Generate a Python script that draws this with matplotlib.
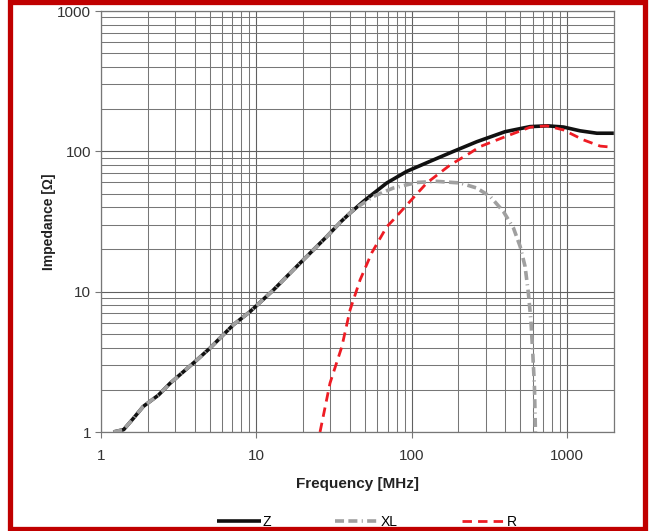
import matplotlib
matplotlib.use('Agg')
import matplotlib.pyplot as plt
from matplotlib.ticker import LogLocator, NullFormatter, FixedFormatter, FixedLocator
from matplotlib.patches import Rectangle

plt.rcParams['font.family'] = ['Liberation Sans', 'DejaVu Sans']

# data (frequency in MHz, impedance in ohm)
z_freq = [1.2, 1.4, 1.615, 1.87, 2.34, 2.78, 4.13, 5.03, 7.1, 9.1, 12.9, 19.1, 28.4, 35, 40.1,
          48.9, 69.1, 93, 131, 186, 262, 399, 578, 745, 948, 1214, 1556, 2000]
z_val = [1.0, 1.04, 1.25, 1.52, 1.83, 2.22, 3.25, 3.96, 5.8, 7.2, 10.3, 15.96, 24.7, 31.5, 36.3,
         44, 59.5, 72, 84.8, 100, 117, 138, 150, 152, 149, 140, 134.6, 134.6]

xl_freq = [1.2, 1.4, 1.615, 1.87, 2.34, 2.78, 4.13, 5.03, 7.1, 9.1, 12.9, 19.1, 28.4, 35, 42.1,
           56.7, 76.2, 108, 145, 205, 262, 320, 389, 452, 499, 537, 564, 585, 602, 617, 626]
xl_val = [1.0, 1.04, 1.25, 1.52, 1.83, 2.22, 3.25, 3.96, 5.8, 7.2, 10.3, 15.96, 24.7, 31.5, 38.3,
          47.7, 54.8, 60, 61.1, 59.5, 54.8, 47.7, 37.3, 28.4, 21, 15.1, 9.74, 6.28, 3.63, 2.1, 1.0]

r_freq = [25.7, 29.8, 35.5, 40.1, 46.5, 55.3, 69.1, 76.2, 97.6, 125, 177, 238, 275, 399,
          578, 741, 948, 1276, 1633, 1944]
r_val = [1.0, 2.23, 4.05, 7.4, 12.1, 18.9, 29, 32.5, 44, 59.5, 80, 97.4, 108, 127,
         148.5, 152, 142, 120.6, 109, 107]

x_ticks = [1, 10, 100, 1000]
y_ticks = [1, 10, 100, 1000]

fig = plt.figure(figsize=(6.51, 5.31), dpi=100)
ax = fig.add_axes([101 / 651, 1 - 432 / 531, (613.8 - 101) / 651, (432 - 11) / 531])

ax.plot(z_freq, z_val, color='#111111', lw=2.6, solid_capstyle='butt', label='Z', zorder=3)
ax.plot(xl_freq, xl_val, color='#a0a0a0', lw=2.6, linestyle=(0, (2.5, 1.2, 2.5, 1.2, 0.3, 1.2)),
        label='XL', zorder=4)
ax.plot(r_freq, r_val, color='#ee1c24', lw=2.0, linestyle=(0, (3.4, 2.2)), label='R', zorder=5)

ax.set_xscale('log')
ax.set_yscale('log')
ax.set_xlim(1, 2000)
ax.set_ylim(1, 1000)

ax.xaxis.set_major_locator(FixedLocator(x_ticks))
ax.xaxis.set_major_formatter(FixedFormatter([str(v) for v in x_ticks]))
ax.yaxis.set_major_locator(FixedLocator(y_ticks))
ax.yaxis.set_major_formatter(FixedFormatter([str(v) for v in y_ticks]))
ax.xaxis.set_minor_locator(LogLocator(base=10, subs=range(2, 10), numticks=20))
ax.yaxis.set_minor_locator(LogLocator(base=10, subs=range(2, 10), numticks=20))
ax.xaxis.set_minor_formatter(NullFormatter())
ax.yaxis.set_minor_formatter(NullFormatter())

ax.grid(True, which='major', color='#606060', lw=0.8)
ax.grid(True, which='minor', color='#777777', lw=0.75)
ax.set_axisbelow(True)
for s in ax.spines.values():
    s.set_color('#777777')
    s.set_linewidth(0.9)

ax.tick_params(which='major', length=4, color='#777777', labelsize=11, labelcolor='#333333', pad=3)
ax.tick_params(which='minor', length=0)
ax.tick_params(axis='x', pad=8)

ax.set_xlabel('Frequency [MHz]', fontsize=11, fontweight='bold', color='#222222', labelpad=10)
ax.set_ylabel('Impedance [\u03a9]', fontsize=10, fontweight='bold', color='#222222', labelpad=1)

fig.legend(loc='lower center', bbox_to_anchor=(0.564, -0.02), ncol=3, frameon=False,
           handlelength=3.17, columnspacing=4.6, handletextpad=0.1, fontsize=10)

# red frame around the picture
fig.patches.append(Rectangle((9.75 / 651, 2.5 / 531), (644.5 - 9.75) / 651, (529 - 2.5) / 531,
                             transform=fig.transFigure, fill=False, edgecolor='#c00000',
                             lw=3.8, zorder=10))

fig.savefig('out.png', dpi=100)
